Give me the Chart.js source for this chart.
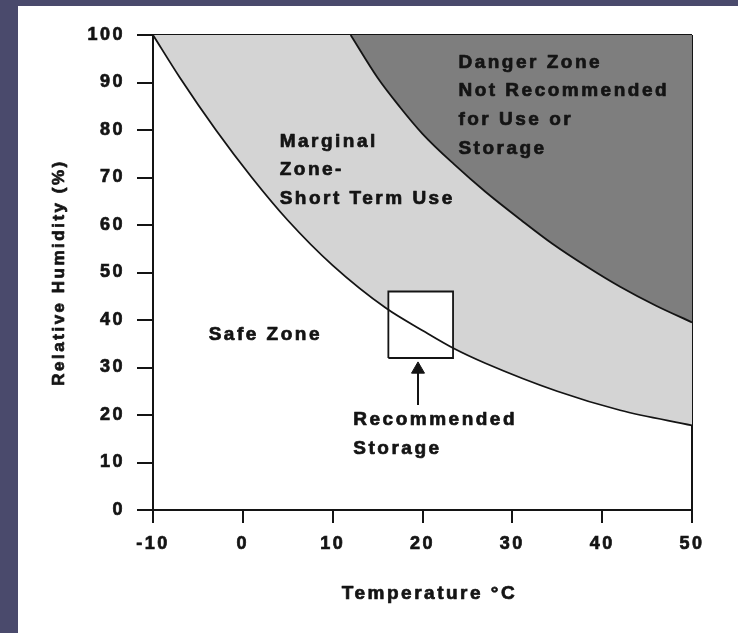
<!DOCTYPE html>
<html>
<head>
<meta charset="utf-8">
<title>Storage zones by temperature and relative humidity</title>
<script src="https://cdn.jsdelivr.net/npm/chart.js@4.4.0/dist/chart.umd.min.js"></script>
<style>
  html, body { margin: 0; padding: 0; background: #4a4a6c; }
  #panel { position: absolute; left: 18px; top: 6px; width: 720px; height: 627px; background: #fff; }
</style>
</head>
<body>
<div id="panel"><canvas id="zoneChart" width="720" height="627"></canvas></div>
<script>
'use strict';

// Boundary safe zone / marginal zone (temperature degC -> RH %)
var SAFE_T  = [-10, -7, -3, 1, 5, 10, 16, 20, 23.5, 27, 35, 42, 50];
var SAFE_RH = [100, 91, 80, 70, 61, 51.5, 42.4, 37.8, 34, 30.9, 25, 21, 17.8];

// Boundary marginal zone / danger zone
var DANGER_T  = [12, 15, 17.5, 20, 23.5, 27, 31, 34.5, 38.5, 42, 46, 50];
var DANGER_RH = [100, 91, 84.8, 79.2, 72.8, 67, 61, 56, 51, 47, 43, 39.5];

// Recommended storage box and the arrow pointing at it
var BOX_T  = [16.2, 16.2, 23.4, 23.4, 16.2];
var BOX_RH = [32, 46, 46, 32, 32];
var ARROW_T  = [19.5, 19.5];
var ARROW_RH = [22.1, 29.6];

var X_TICKS = [-10, 0, 10, 20, 30, 40, 50];
var Y_TICKS = [0, 10, 20, 30, 40, 50, 60, 70, 80, 90, 100];
var X_TITLE = 'Temperature °C';
var Y_TITLE = 'Relative Humidity (%)';

var ZONE_LABELS = [
  ['Danger Zone', 'Not Recommended', 'for Use or', 'Storage'],
  ['Marginal', 'Zone-', 'Short Term Use'],
  ['Safe Zone'],
  ['Recommended', 'Storage']
];
var ZONE_LABEL_T  = [24.0, 4.1, -3.8, 12.3];
var ZONE_LABEL_RH = [93.1, 76.5, 35.8, 17.9];

var FONT = '"Liberation Sans", Arial, Helvetica, sans-serif';
var INK = '#141414';

function pts(xs, ys) {
  return xs.map(function (x, i) { return { x: x, y: ys[i] }; });
}

function heavyText(ctx, s, x, y) {
  ctx.fillText(s, x, y);
  ctx.strokeText(s, x, y);
}

// zone names (placed in data units) and the two axis titles, drawn a bit heavier
var zoneText = {
  id: 'zoneText',
  beforeDraw: function (chart) {
    chart.ctx.letterSpacing = '2.5px';
  },
  afterDatasetsDraw: function (chart) {
    var ctx = chart.ctx, xs = chart.scales.x, ys = chart.scales.y;
    ctx.save();
    ctx.font = 'bold 19px ' + FONT;
    ctx.letterSpacing = '2.5px';
    ctx.fillStyle = INK;
    ctx.strokeStyle = INK;
    ctx.lineWidth = 0.7;
    ctx.lineJoin = 'round';
    ctx.textAlign = 'left';
    ctx.textBaseline = 'alphabetic';
    ZONE_LABELS.forEach(function (lines, i) {
      var px = xs.getPixelForValue(ZONE_LABEL_T[i]);
      var py = ys.getPixelForValue(ZONE_LABEL_RH[i]);
      lines.forEach(function (s, j) { heavyText(ctx, s, px, py + j * 28.7); });
    });

    // axis titles
    ctx.textAlign = 'center';
    ctx.textBaseline = 'middle';
    ctx.font = 'bold 19px ' + FONT;
    heavyText(ctx, X_TITLE, (xs.left + xs.right) / 2 + 7, xs.bottom - 39);
    ctx.font = 'bold 17px ' + FONT;
    ctx.translate(ys.left + 41, (ys.top + ys.bottom) / 2);
    ctx.rotate(-Math.PI / 2);
    heavyText(ctx, Y_TITLE, 0, 0);
    ctx.restore();
  }
};

Chart.defaults.font.family = FONT;

new Chart(document.getElementById('zoneChart'), {
  type: 'line',
  data: {
    datasets: [
      {
        label: 'Recommended Storage',
        data: pts(BOX_T, BOX_RH),
        borderColor: INK, borderWidth: 1.8,
        backgroundColor: '#ffffff', fill: 'shape',
        pointRadius: 0, tension: 0
      },
      {
        label: 'Danger Zone',
        data: pts(DANGER_T, DANGER_RH),
        borderColor: INK, borderWidth: 1.8,
        backgroundColor: '#7e7e7e', fill: 'end',
        pointRadius: 0, cubicInterpolationMode: 'monotone'
      },
      {
        label: 'Marginal Zone',
        data: pts(SAFE_T, SAFE_RH),
        borderColor: INK, borderWidth: 1.8,
        backgroundColor: '#d4d4d4', fill: 'end',
        pointRadius: 0, cubicInterpolationMode: 'monotone'
      },
      {
        label: 'arrow',
        data: pts(ARROW_T, ARROW_RH),
        borderColor: INK, borderWidth: 2, fill: false,
        pointRadius: [0, 7.5], pointStyle: 'triangle',
        pointBackgroundColor: INK, pointBorderColor: INK, pointBorderWidth: 1
      }
    ]
  },
  options: {
    responsive: false,
    animation: false,
    events: [],
    layout: { padding: { left: 0, top: 29, right: 46, bottom: 0 } },
    plugins: {
      legend: { display: false },
      tooltip: { enabled: false },
      filler: { drawTime: 'beforeDatasetsDraw' }
    },
    scales: {
      x: {
        type: 'linear', min: -10, max: 50, z: 1,
        afterBuildTicks: function (s) { s.ticks = X_TICKS.map(function (v) { return { value: v }; }); },
        afterFit: function (s) { s.height = 123; },
        grid: {
          drawOnChartArea: true,
          color: function (c) { return c.tick && c.tick.value === 50 ? INK : 'rgba(0,0,0,0)'; },
          tickColor: INK, lineWidth: 2, tickWidth: 2, tickLength: 13
        },
        border: { color: INK, width: 2 },
        ticks: {
          color: INK, padding: 10, font: { size: 18, weight: 'bold' },
          textStrokeColor: INK, textStrokeWidth: 0.7
        }
      },
      y: {
        type: 'linear', min: 0, max: 100, z: 1,
        afterBuildTicks: function (s) { s.ticks = Y_TICKS.map(function (v) { return { value: v }; }); },
        afterFit: function (s) { s.width = 135; },
        grid: {
          drawOnChartArea: true,
          color: function (c) { return c.tick && c.tick.value === 100 ? INK : 'rgba(0,0,0,0)'; },
          tickColor: INK, lineWidth: 2, tickWidth: 2, tickLength: 16
        },
        border: { color: INK, width: 2 },
        ticks: {
          color: INK, padding: 12, font: { size: 18, weight: 'bold' },
          textStrokeColor: INK, textStrokeWidth: 0.7
        }
      }
    }
  },
  plugins: [zoneText]
});
</script>
</body>
</html>
